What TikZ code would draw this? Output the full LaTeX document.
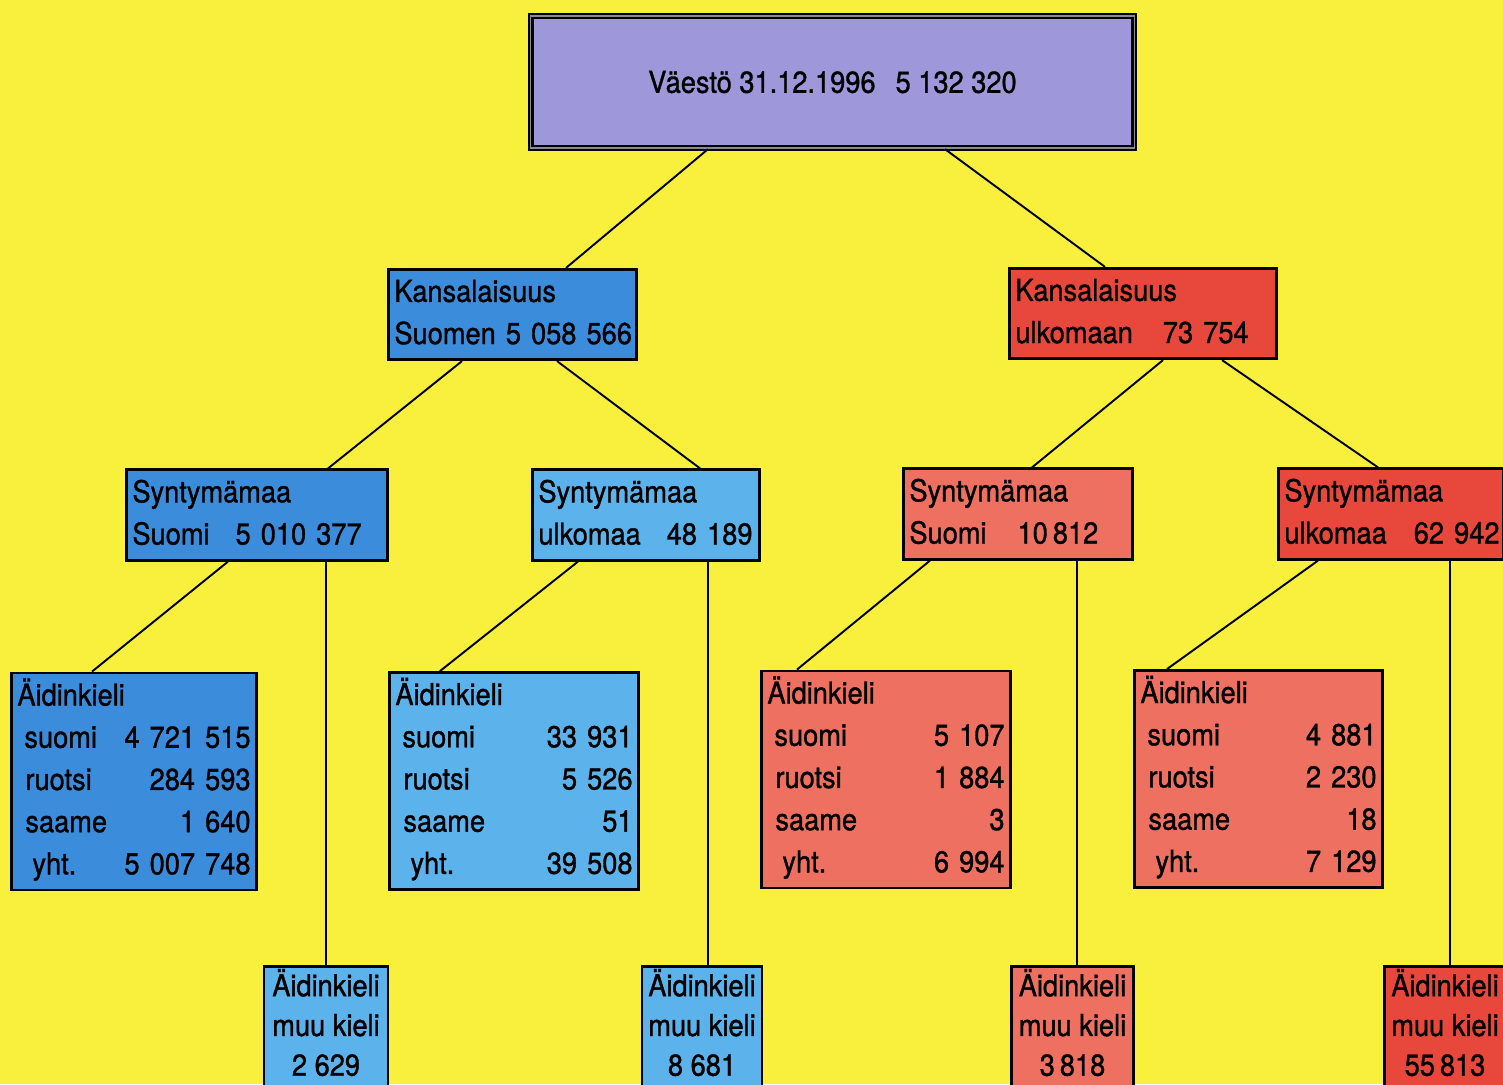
\documentclass[tikz,border=0pt]{standalone}
\usepackage{fontspec}
\setmainfont[FakeBold=1.1, FakeStretch=0.9]{TeX Gyre Heros}
\usetikzlibrary{positioning,calc}
\definecolor{bgyellow}{RGB}{249,239,61}
\definecolor{lavender}{RGB}{158,152,219}
\definecolor{dblue}{RGB}{59,141,220}
\definecolor{lblue}{RGB}{92,178,234}
\definecolor{dred}{RGB}{232,72,60}
\definecolor{salmon}{RGB}{238,112,97}
\tikzset{%
	topbox/.style = {draw, rectangle, double=black!45, double distance=0.35pt, line width=0.65pt, minimum width=6.03cm, minimum height=1.32cm, font=\fontsize{8.6}{12}\selectfont},
	box/.style    = {draw, rectangle, line width=0.8pt, inner xsep=0.06cm, inner ysep=0.03cm, align=left, font=\fontsize{8.6}{12}\selectfont},
	mbox/.style   = {draw, rectangle, line width=0.8pt, inner xsep=0.04cm, inner ysep=0.02cm, align=center, anchor=north, font=\fontsize{8.6}{11.3}\selectfont},
	conn/.style   = {line width=0.55pt},
}
\begin{document}
\begin{tikzpicture}[x=0.01cm, y=-0.01cm]
		\useasboundingbox (0,0) rectangle (1503,1084);
		\clip (0,0) rectangle (1503,1084);
		\fill[bgyellow] (0,0) rectangle (1503,1084);

		\node[topbox, fill=lavender] (v) at (832.5,82) {Väestö 31.12.1996\hspace{2mm}5~132~320};

		\node[box, fill=dblue, text width=2.36cm, minimum height=0.80cm] (k1) at (512.5,314.5) {\strut Kansalaisuus\\\strut\mbox{Suomen 5~058~566}};
		\node[box, fill=dred, text width=2.55cm, minimum height=0.80cm] (k2) at (1143,313.5) {\strut Kansalaisuus\\\strut\mbox{ulkomaan\hspace{3mm}73~754}};

		\node[box, fill=dblue, text width=2.49cm, minimum height=0.81cm] (s1) at (257,515) {\strut Syntymämaa\\\strut\mbox{Suomi\hspace{2.6mm}5~010~377}};
		\node[box, fill=lblue, text width=2.15cm, minimum height=0.81cm] (s2) at (646,515) {\strut Syntymämaa\\\strut\mbox{ulkomaa\hspace{2.6mm}48~189}};
		\node[box, fill=salmon, text width=2.17cm, minimum height=0.79cm] (s3) at (1018,514) {\strut Syntymämaa\\\strut\mbox{Suomi\hspace{3.1mm}10\,812}};
		\node[box, fill=dred, text width=2.13cm, minimum height=0.79cm] (s4) at (1391,514) {\strut Syntymämaa\\\strut\mbox{ulkomaa\hspace{2.7mm}62~942}};

		\node[box, fill=dblue, text width=2.33cm, minimum height=2.10cm] (a1) at (134,781.5) {\strut Äidinkieli\\
			\strut\hspace{0.07cm}suomi\hfill 4~721~515\\
			\strut\hspace{0.08cm}ruotsi\hfill 284~593\\
			\strut\hspace{0.08cm}saame\hfill 1~640\\
			\strut\hspace{0.15cm}yht.\hfill 5~007~748};
		\node[box, fill=lblue, text width=2.37cm, minimum height=2.09cm] (a2) at (514,781) {\strut Äidinkieli\\
			\strut\hspace{0.07cm}suomi\hfill 33~931\\
			\strut\hspace{0.08cm}ruotsi\hfill 5~526\\
			\strut\hspace{0.08cm}saame\hfill 51\\
			\strut\hspace{0.15cm}yht.\hfill 39~508};
		\node[box, fill=salmon, text width=2.37cm, minimum height=2.10cm] (a3) at (886,779.5) {\strut Äidinkieli\\
			\strut\hspace{0.07cm}suomi\hfill 5~107\\
			\strut\hspace{0.08cm}ruotsi\hfill 1~884\\
			\strut\hspace{0.08cm}saame\hfill 3\\
			\strut\hspace{0.15cm}yht.\hfill 6~994};
		\node[box, fill=salmon, text width=2.36cm, minimum height=2.09cm] (a4) at (1258.5,779) {\strut Äidinkieli\\
			\strut\hspace{0.07cm}suomi\hfill 4~881\\
			\strut\hspace{0.08cm}ruotsi\hfill 2~230\\
			\strut\hspace{0.08cm}saame\hfill 18\\
			\strut\hspace{0.15cm}yht.\hfill 7~129};

		\node[mbox, fill=lblue, minimum width=1.24cm] (m1) at (326,965) {\strut Äidinkieli\\\strut muu kieli\\\strut 2~629};
		\node[mbox, fill=lblue, minimum width=1.20cm] (m2) at (702,965) {\strut Äidinkieli\\\strut muu kieli\\\strut 8~681};
		\node[mbox, fill=salmon, minimum width=1.22cm] (m3) at (1072.5,965) {\strut Äidinkieli\\\strut muu kieli\\\strut 3\,818};
		\node[mbox, fill=dred, minimum width=1.21cm] (m4) at (1445,965) {\strut Äidinkieli\\\strut muu kieli\\\strut 55\,813};

		\draw[conn] ([xshift=-1.245cm]v.south) -- ([xshift=0.535cm]k1.north);
		\draw[conn] ([xshift=1.125cm]v.south) -- ([xshift=-0.38cm]k2.north);
		\draw[conn] ([xshift=-0.505cm]k1.south) -- ([xshift=0.71cm]s1.north);
		\draw[conn] ([xshift=0.445cm]k1.south) -- ([xshift=0.54cm]s2.north);
		\draw[conn] ([xshift=0.20cm]k2.south) -- ([xshift=0.14cm]s3.north);
		\draw[conn] ([xshift=0.79cm]k2.south) -- ([xshift=-0.13cm]s4.north);
		\draw[conn] ([xshift=-0.29cm]s1.south) -- ([xshift=-0.42cm]a1.north);
		\draw[conn] ([xshift=-0.68cm]s2.south) -- ([xshift=-0.74cm]a2.north);
		\draw[conn] ([xshift=-0.88cm]s3.south) -- ([xshift=-0.89cm]a3.north);
		\draw[conn] ([xshift=-0.73cm]s4.south) -- ([xshift=-0.915cm]a4.north);

		\coordinate (m2top) at ([xshift=0.06cm]m2.north);
		\coordinate (m3top) at ([xshift=0.045cm]m3.north);
		\coordinate (m4top) at ([xshift=0.05cm]m4.north);
		\draw[conn] (m1.north) -- (m1.north |- s1.south);
		\draw[conn] (m2top) -- (m2top |- s2.south);
		\draw[conn] (m3top) -- (m3top |- s3.south);
		\draw[conn] (m4top) -- (m4top |- s4.south);
\end{tikzpicture}
\end{document}
